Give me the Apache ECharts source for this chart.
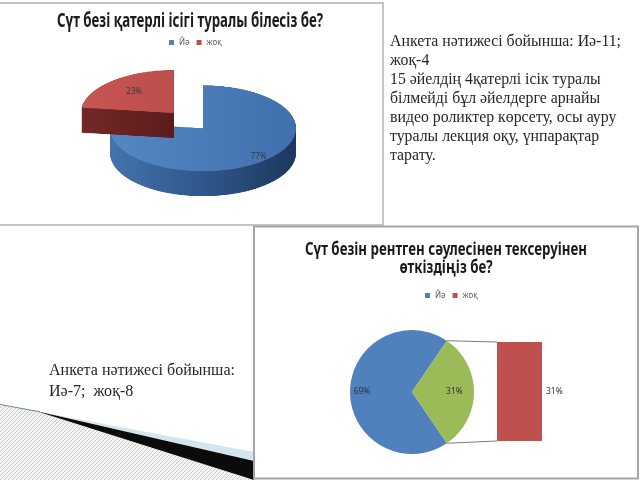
<!DOCTYPE html>
<html><head><meta charset="utf-8">
<script src="https://cdn.jsdelivr.net/npm/echarts@6/dist/echarts.min.js"></script>
<style>
html,body{margin:0;padding:0;background:#fff;}
#wrap{position:relative;width:640px;height:480px;overflow:hidden;background:#fff;}
#pie3d{position:absolute;width:300px;height:300px;transform-origin:0 0;}
#main{position:absolute;left:0;top:0;width:640px;height:480px;}
</style></head><body>
<div id="wrap"><div id="pie3d"></div><div id="main"></div></div>
<script>
// ---------- data ----------
const q1Title = 'Сүт безі қатерлі ісігі туралы білесіз бе?';
const q1Categories = ['Йә', 'жоқ'];
const q1Values = [77, 23];

const q2TitleLines = ['Сүт безін рентген сәулесінен тексеруінен', 'өткіздіңіз бе?'];
const q2PieCategories = ['Йә', 'Басқа'];
const q2PieValues = [69, 31];
const q2BarCategories = ['жоқ'];
const q2BarValues = [31];
const q2Legend = ['Йә', 'жоқ'];

const note1Lines = [
  'Анкета нәтижесі бойынша: Иә-11;',
  'жоқ-4',
  '15 әйелдің 4қатерлі ісік туралы',
  'білмейді бұл әйелдерге арнайы',
  'видео роликтер көрсету, осы ауру',
  'туралы лекция оқу, үнпарақтар',
  'тарату.'
];
const note2Lines = ['Анкета нәтижесі бойынша:', 'Иә-7;  жоқ-8'];

// ---------- layout / style ----------
const BLUE = '#4F81BD', RED = '#C0504D', GREEN = '#9BBB59';
const S = 0.462;             // vertical squash of the 3D pie
const R3 = 93;               // 3D pie radius
const Q1C = [203, 128];      // 3D pie centre on screen
const DEPTH = 25 / S, STEP = 2;
const EXPLODE = 44;
const Q1_LABEL_K = [1.7, 2.1];
const Q2C = [412, 392], Q2R = 62;
const Q2_LABEL_K = [1.47, 1.25];
const GRID2 = {left: 497, top: 342, width: 45, height: 99};
const TITLE_FONT = '"Noto Sans", sans-serif';
const SERIF = '"Liberation Serif", "DejaVu Serif", serif';

function measure(text, font) {
  const c = measure.c || (measure.c = document.createElement('canvas').getContext('2d'));
  c.font = font; return c.measureText(text).width;
}
function fitScale(text, font, w) {
  const s = w / measure(text, font);
  return Math.max(0.6, Math.min(1.3, s));
}

// ---------- 3D pie (overlay, squashed) ----------
const pieDiv = document.getElementById('pie3d');
pieDiv.style.left = (Q1C[0] - 150) + 'px';
pieDiv.style.top = (Q1C[1] - 150 * S) + 'px';
pieDiv.style.transform = 'scaleY(' + S + ')';
const pie3d = echarts.init(pieDiv, null, {renderer: 'canvas'});
function lin(stops) { return {type: 'linear', x: 0, y: 0, x2: 1, y2: 0, colorStops: stops.map((c, i) => ({offset: i / (stops.length - 1), color: c}))}; }
const sideColors = [lin(['#4573ac', '#2f578b', '#1d385c']), lin(['#742826', '#5a1d1c'])];
const topColors = [lin(['#5587c4', '#4a7cb9', '#4070ad']), lin(['#c85653', '#bc4e4b'])];
function q1Data(cols) {
  return q1Categories.map((n, i) => ({name: n, value: q1Values[i], selected: i === 1, itemStyle: {color: cols[i]}}));
}
const q1Series = [];
for (let d = DEPTH; d > 0; d -= STEP) {
  q1Series.push({type: 'pie', center: [150, 150 + d], radius: R3, startAngle: 90, clockwise: true,
    selectedMode: 'single', selectedOffset: EXPLODE, silent: true, animation: false,
    itemStyle: {borderWidth: 0}, label: {show: false}, labelLine: {show: false}, data: q1Data(sideColors)});
}
q1Series.push({type: 'pie', center: [150, 150], radius: R3, startAngle: 90, clockwise: true,
  selectedMode: 'single', selectedOffset: EXPLODE, silent: true, animation: false,
  itemStyle: {borderWidth: 0}, label: {show: false}, labelLine: {show: false}, data: q1Data(topColors)});
pie3d.setOption({animation: false, series: q1Series});

// ---------- main chart ----------
const chart = echarts.init(document.getElementById('main'), null, {renderer: 'canvas'});
const q2Sum = q2PieValues.reduce((a, b) => a + b, 0);
const otherAngle = q2PieValues[1] / q2Sum * 360;

function hatch() {
  const c = document.createElement('canvas'); c.width = 4; c.height = 4;
  const g = c.getContext('2d');
  g.fillStyle = '#f4f4f4'; g.fillRect(0, 0, 4, 4);
  g.strokeStyle = '#c8c8c8'; g.lineWidth = 1;
  g.beginPath(); g.moveTo(-1, 5); g.lineTo(5, -1); g.stroke();
  return c;
}

// label placement: remember each label's default spot once, then push it radially (absolute, idempotent)
const labelHome = {};
function radialLayout(key, centre, ks, sy) {
  return function (p) {
    const id = key + p.dataIndex;
    if (!labelHome[id]) {
      const r = p.labelRect;
      labelHome[id] = [r.x + r.width / 2, r.y + r.height / 2];
    }
    const h = labelHome[id], k = ks[p.dataIndex];
    return {
      x: centre[0] + (h[0] - centre[0]) * k,
      y: centre[1] + (h[1] - centre[1]) * k * sy,
      align: 'center', verticalAlign: 'middle'
    };
  };
}

const t1Font = 'bold 19px ' + TITLE_FONT;
const t2Font = 'bold 18px ' + TITLE_FONT;
const nFont = '16px ' + SERIF;
const t1Scale = fitScale(q1Title, t1Font, 266);
const t2Scale = fitScale(q2TitleLines[0], t2Font, 282);
const n1Scale = fitScale(note1Lines[0], nFont, 231);
const n2Scale = fitScale(note2Lines[0], nFont, 186);

const graphics = [
  {type: 'polygon', id: 'hatch', silent: true, shape: {points: [[0, 405], [36, 411], [254, 479], [254, 481], [0, 481]]}, style: {fill: {image: hatch(), repeat: 'repeat'}}},
  {type: 'polygon', id: 'cyan', silent: true, shape: {points: [[40, 412], [254, 452], [254, 461]]}, style: {fill: '#d3e5ee'}},
  {type: 'polygon', id: 'black', silent: true, shape: {points: [[36, 411], [254, 461], [254, 480]]}, style: {fill: '#0b0b0b'}},
  {type: 'line', id: 'thin', silent: true, shape: {x1: 0, y1: 404.5, x2: 40, y2: 411.8}, style: {stroke: '#6a8799', lineWidth: 1}},
  {type: 'rect', id: 'box1', silent: true, shape: {x: -1, y: 3, width: 384, height: 222}, style: {fill: 'none', stroke: '#b3b3b3', lineWidth: 1.5}},
  {type: 'rect', id: 'box2', silent: true, shape: {x: 254, y: 226.5, width: 384, height: 252}, style: {fill: 'none', stroke: '#a6a6a6', lineWidth: 2}},
  {type: 'text', id: 't1', silent: true, x: 190, y: 22, scaleX: t1Scale, style: {text: q1Title, font: t1Font, fill: '#1a1a1a', textAlign: 'center', textVerticalAlign: 'middle'}}
];
q2TitleLines.forEach((s, i) => graphics.push({type: 'text', id: 't2_' + i, silent: true, x: 446, y: 250 + i * 18, scaleX: t2Scale,
  style: {text: s, font: t2Font, fill: '#1a1a1a', textAlign: 'center', textVerticalAlign: 'middle'}}));
note1Lines.forEach((s, i) => graphics.push({type: 'text', id: 'n1_' + i, silent: true, x: 390, y: 42 + i * 18.9, scaleX: n1Scale,
  style: {text: s, font: nFont, fill: '#262626', textAlign: 'left', textVerticalAlign: 'middle'}}));
note2Lines.forEach((s, i) => graphics.push({type: 'text', id: 'n2_' + i, silent: true, x: 49, y: 371 + i * 20.5, scaleX: n2Scale,
  style: {text: s, font: nFont, fill: '#262626', textAlign: 'left', textVerticalAlign: 'middle'}}));

const legendBase = {orient: 'horizontal', icon: 'rect', itemWidth: 5, itemHeight: 5, itemGap: 7, padding: 0, selectedMode: false,
  textStyle: {fontSize: 8, color: '#595959', fontFamily: TITLE_FONT}};

chart.setOption({
  animation: false,
  backgroundColor: 'transparent',
  legend: [
    Object.assign({}, legendBase, {data: q1Categories, left: 169, top: 38.5}),
    Object.assign({}, legendBase, {data: q2Legend, left: 425, top: 291.5})
  ],
  grid: [{left: GRID2.left, top: GRID2.top, width: GRID2.width, height: GRID2.height, show: false}],
  xAxis: [{type: 'category', data: q2BarCategories, show: false, gridIndex: 0}],
  yAxis: [{type: 'value', min: 0, max: q2BarValues[0], show: false, gridIndex: 0}],
  graphic: graphics,
  series: [
    {type: 'pie', id: 'q2pie', center: Q2C, radius: Q2R, startAngle: -otherAngle / 2, clockwise: true, silent: true,
      itemStyle: {borderWidth: 0},
      label: {show: true, position: 'inside', formatter: '{c}%', fontSize: 8.5, color: '#333', fontFamily: TITLE_FONT},
      labelLine: {show: false},
      labelLayout: radialLayout('b', Q2C, Q2_LABEL_K, 1),
      data: q2PieCategories.map((n, i) => ({name: n, value: q2PieValues[i], itemStyle: {color: [BLUE, GREEN][i]}}))},
    {type: 'bar', name: q2BarCategories[0], xAxisIndex: 0, yAxisIndex: 0, barWidth: '100%', silent: true,
      itemStyle: {color: RED},
      label: {show: true, position: 'right', distance: 4, formatter: '{c}%', fontSize: 8.5, color: '#333', fontFamily: TITLE_FONT},
      data: q2BarValues},
    {type: 'pie', id: 'q1labels', center: Q1C, radius: R3, startAngle: 90, clockwise: true, silent: true, legendHoverLink: false,
      itemStyle: {color: 'rgba(0,0,0,0)', borderWidth: 0},
      label: {show: true, position: 'inside', formatter: '{c}%', fontSize: 8, color: '#3a3a3a', fontFamily: TITLE_FONT},
      labelLine: {show: false},
      labelLayout: radialLayout('t', Q1C, Q1_LABEL_K, S),
      data: q1Categories.map((n, i) => ({name: n, value: q1Values[i]}))}
  ]
});

// connector lines of the pie-of-bar, from the library's coordinates
const a = otherAngle / 2 * Math.PI / 180;
const pTop = [Q2C[0] + Q2R * Math.cos(a), Q2C[1] - Q2R * Math.sin(a)];
const pBot = [pTop[0], Q2C[1] + Q2R * Math.sin(a)];
const barTop = chart.convertToPixel({gridIndex: 0}, [q2BarCategories[0], q2BarValues[0]]);
const barBot = chart.convertToPixel({gridIndex: 0}, [q2BarCategories[0], 0]);
const bx = barTop[0] - GRID2.width / 2;
chart.setOption({graphic: [
  {type: 'line', id: 'c1', silent: true, shape: {x1: pTop[0], y1: pTop[1], x2: bx, y2: barTop[1]}, style: {stroke: '#7a7a7a', lineWidth: 1}},
  {type: 'line', id: 'c2', silent: true, shape: {x1: pBot[0], y1: pBot[1], x2: bx, y2: barBot[1]}, style: {stroke: '#7a7a7a', lineWidth: 1}}
]});
</script>
</body></html>
